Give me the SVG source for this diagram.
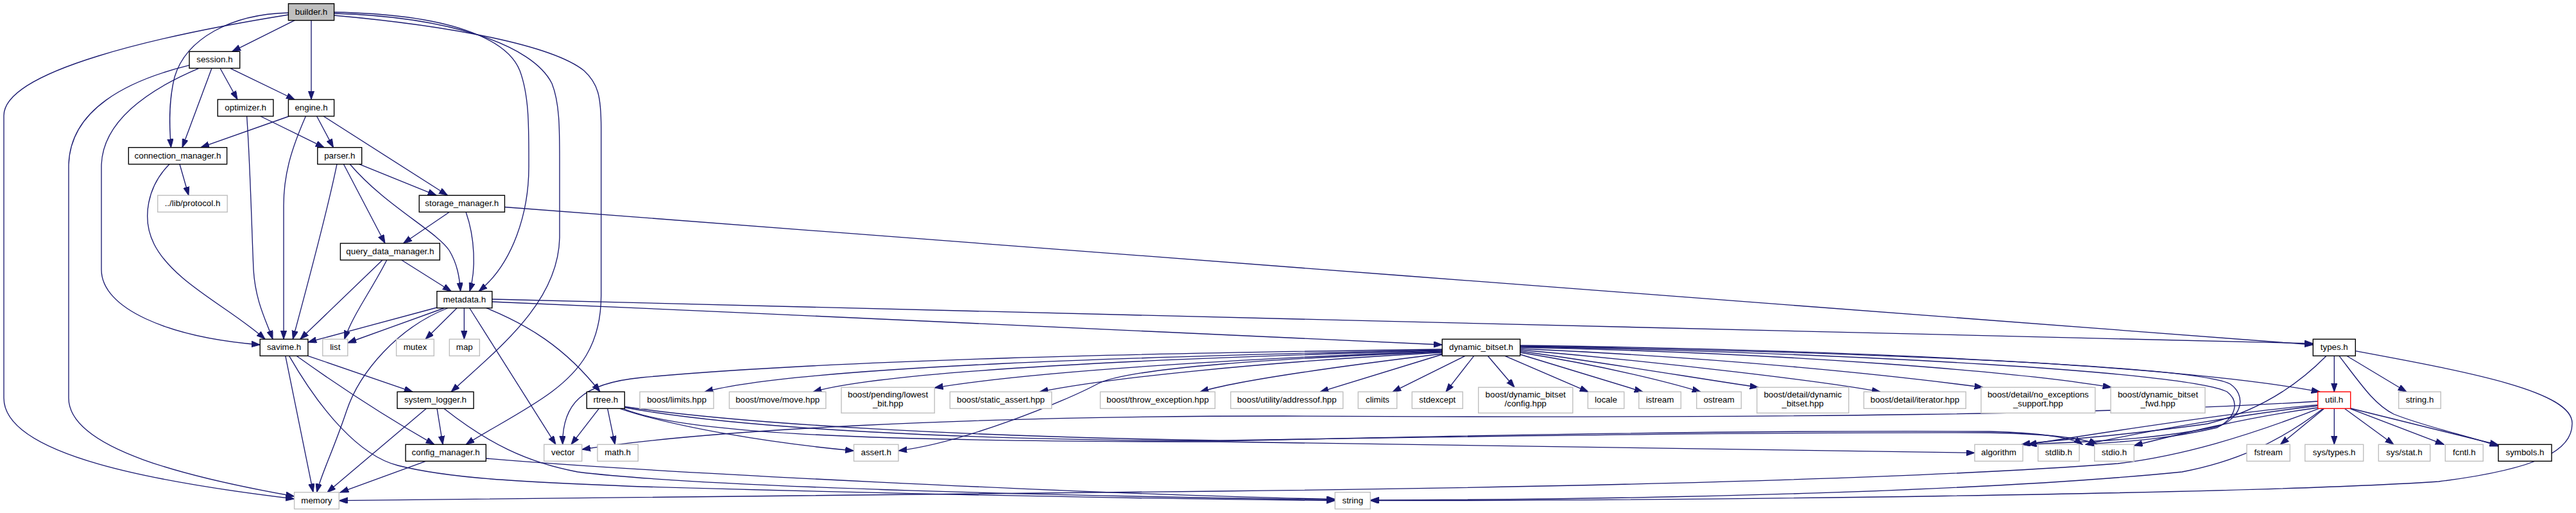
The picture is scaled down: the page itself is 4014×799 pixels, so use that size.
<svg xmlns="http://www.w3.org/2000/svg" width="4014" height="799" viewBox="0 0 4014 799">
<style>
.n rect{fill:#fff;stroke:#000;stroke-width:1.4}
.n.r rect{fill:#bfbfbf}
.n.s rect{stroke:#bfbfbf}
.n.u rect{stroke:#ff0000}
.n text{font-family:"Liberation Sans",Arial,Helvetica,sans-serif;font-size:13.33px;fill:#000;text-anchor:middle}
#edges path{fill:none;stroke:#191970;stroke-width:1.33;marker-end:url(#a)}
</style>
<defs>
<marker id="a" markerUnits="userSpaceOnUse" markerWidth="14" markerHeight="10" refX="13.3" refY="4.67" orient="auto"><path d="M0,0 L13.3,4.67 L0,9.33 z" fill="#191970" stroke="#191970" stroke-width="1"/></marker>
</defs>
<rect x="0" y="0" width="4014" height="799" fill="#fff"/>
<g id="edges">
<path d="M459.2,31.7 L361.6,80.3"/>
<path d="M485,31.7 L485,155"/>
<path d="M449.4,20 C360,22 290,60 272,120 C262,160 264,200 266.5,229.7"/>
<path d="M449.4,23 C250,55 6,110 6,180 L6,620 C6,710 250,752 458.6,777"/>
<path d="M520.6,19 C700,22 790,60 810,110 C825,150 824,200 824,260 C824,330 800,410 746,453.7"/>
<path d="M520.6,21 C700,26 830,70 860,130 C872,160 872,200 872,250 L872,370 C870,470 780,540 703,610.3"/>
<path d="M520.6,24 C700,40 860,70 910,110 C932,130 936.7,150 936.7,200 L936.7,460 C936.7,540 900,580 860,610 C820,640 760,670 726,692.3"/>
<path d="M330,106.3 L284,229.7"/>
<path d="M343,106.3 L370,155"/>
<path d="M358.7,106.3 L459.2,155"/>
<path d="M295,101.7 C200,125 107,170 107,260 L107,620 C107,700 300,745 458.6,773"/>
<path d="M310,106.3 C230,140 158,190 158,260 L158,420 C158,480 260,525 405.2,537"/>
<path d="M405.8,181 L505,229.7"/>
<path d="M384.6,181 C390,260 392,350 395,420 C398,470 415,500 425,528.3"/>
<path d="M450.6,181 L312.8,229.7"/>
<path d="M493.6,181 L519.5,229.7"/>
<path d="M504,181 L697.4,304.3"/>
<path d="M476.4,181 C455,230 442,270 442,320 L442,528.3"/>
<path d="M280,255.7 L293.9,304.3"/>
<path d="M264,255.7 C230,290 220,340 240,380 C270,440 360,480 413,528.3"/>
<path d="M525,255.7 C510,330 480,440 456.3,528.3"/>
<path d="M535.5,255.7 L600,379"/>
<path d="M545.3,255.7 C600,320 680,360 700,390 C712,410 716,430 717.5,453.7"/>
<path d="M559.6,255.7 L680,304.3"/>
<path d="M700.3,330.3 L628.5,379"/>
<path d="M726,330.3 C740,370 742,420 731.8,453.7"/>
<path d="M786.4,322.5 C1500,377 2900,484 3604.3,537"/>
<path d="M596,405 L467.8,528.3"/>
<path d="M602.7,405 C580,450 550,490 536.7,528.3"/>
<path d="M625.7,405 L703.2,453.7"/>
<path d="M680.8,479 L479.9,533"/>
<path d="M691.7,480 L541.8,534"/>
<path d="M697.4,480 C620,510 560,580 540,640 C520,700 500,740 493.6,766.7"/>
<path d="M711.8,480 L663,528.3"/>
<path d="M723.3,480 L723.3,528.3"/>
<path d="M731.8,480 L866,692.3"/>
<path d="M757.7,479.7 C820,505 880,540 935,610.3"/>
<path d="M766.7,470 C1300,493 1900,520 2247.3,537"/>
<path d="M766.7,466 C1500,484 2900,519 3604.3,535"/>
<path d="M479.9,554.3 L643,610.3"/>
<path d="M462,554.3 C540,610 620,660 676.7,692.3"/>
<path d="M444.8,554.3 L488,766.7"/>
<path d="M450.6,554.3 C500,640 560,710 620,725 C700,745 800,750 1000,758 C1500,772 1800,777 2080.3,779.7"/>
<path d="M681,636.3 L690,692.3"/>
<path d="M664.3,636.3 L510,766.7"/>
<path d="M691.7,636.3 C760,690 820,720 900,735 C1100,760 1700,773 2080.3,778.5"/>
<path d="M757.3,714 C1000,735 1700,770 2080.3,777.5"/>
<path d="M663.3,718.3 L530,767"/>
<path d="M933.3,636.3 L890,692.3"/>
<path d="M946.7,636.3 L958.3,692.3"/>
<path d="M966,636.3 C1050,665 1200,690 1330.5,702"/>
<path d="M968,635 C1050,672 1300,688 1900,688 C2400,696 2800,703 3077,705.3"/>
<path d="M970,634 C1150,668 1500,685 1900,687 C2300,678 2700,670 3100,672 C3180,674 3230,682 3245,692.3"/>
<path d="M971,633 C1150,660 1500,680 1900,686 C2300,680 2700,673 3100,674 C3200,676 3250,684 3268,692.3"/>
<path d="M3611.7,625 C3300,645 2800,652 2000,648 C1500,648 1100,670 906.7,700"/>
<path d="M2247.3,545 C1800,555 1250,570 1098,610.3"/>
<path d="M2247.3,546 C1800,558 1380,578 1267,610.3"/>
<path d="M2247.3,547 C1900,560 1600,580 1456.2,604"/>
<path d="M2247.3,549 C1950,565 1720,590 1620,610.3"/>
<path d="M2247.3,551 C2050,575 1920,595 1870,610.3"/>
<path d="M2247.3,552 L2057,610.3"/>
<path d="M2283,554.3 L2170,610.3"/>
<path d="M2296.7,554.3 L2253,610.3"/>
<path d="M2247.3,544 C1800,550 1300,560 1000,588 C905,597 876,630 876.7,692.3"/>
<path d="M2247.3,548 C2000,558 1760,572 1710,598 C1660,625 1500,690 1399.9,702"/>
<path d="M2318.3,554.3 L2360,603.3"/>
<path d="M2345,554.3 L2475,610.3"/>
<path d="M2368.7,552 L2560,610.3"/>
<path d="M2368.7,549 C2500,570 2600,595 2650,610.3"/>
<path d="M2368.7,547 C2500,565 2650,590 2740,603.3"/>
<path d="M2368.7,545 C2600,565 2850,595 2930,610.3"/>
<path d="M2368.7,543 C2700,558 2950,585 3090,603.3"/>
<path d="M2368.7,541 C2800,550 3150,580 3290,603.3"/>
<path d="M2368.7,538 C2900,545 3400,570 3615,610.3"/>
<path d="M2368.7,539 C2900,548 3420,570 3475,598 C3500,615 3495,648 3460,663 C3350,688 3220,688 3160,692.3"/>
<path d="M2368.7,540 C2900,550 3410,580 3470,610 C3490,625 3485,650 3455,666 C3350,690 3280,688 3250,692.3"/>
<path d="M3637.3,554.3 L3637.3,610.3"/>
<path d="M3656.7,554.3 L3750,610.3"/>
<path d="M3645,554.3 C3680,600 3700,630 3730,645 C3780,665 3850,680 3893,695"/>
<path d="M3625,554.3 C3580,600 3520,640 3440,660 C3300,680 3200,685 3150,692.3"/>
<path d="M3670.3,546.7 C3850,580 4010,610 4008,660 C4008,700 3960,730 3800,750 C3500,770 2600,780 2135.3,779.7"/>
<path d="M3621.7,636.3 L3553.3,692.3"/>
<path d="M3637.3,636.3 L3637.3,692.3"/>
<path d="M3653.3,636.3 L3730,692.3"/>
<path d="M3661.7,636.3 L3808.3,692.3"/>
<path d="M3662.7,636 L3893,693"/>
<path d="M3611.7,630.7 C3500,640 3300,670 3160,692.3"/>
<path d="M3611.7,632 C3500,645 3350,670 3250,692.3"/>
<path d="M3611.7,635 C3500,650 3400,675 3325.3,694"/>
<path d="M3613.3,636.3 C3500,680 3400,710 3300,722 C3000,745 2500,758 1900,765 C1300,772 800,778 528.3,779.7"/>
<path d="M3620,636.3 C3550,690 3480,720 3400,735 C3100,765 2600,778 2135.3,779"/>
</g>
<g id="builder_h" class="n r"><rect x="449.4" y="5.7" width="71.2" height="26"/><text x="485" y="22.7">builder.h</text></g>
<g id="session_h" class="n"><rect x="295" y="80.3" width="78.7" height="26"/><text x="334.4" y="97.3">session.h</text></g>
<g id="optimizer_h" class="n"><rect x="339.2" y="155" width="86.7" height="26"/><text x="382.6" y="172">optimizer.h</text></g>
<g id="engine_h" class="n"><rect x="449.4" y="155" width="71.2" height="26"/><text x="485" y="172">engine.h</text></g>
<g id="connection_manager_h" class="n"><rect x="200.3" y="229.7" width="153.3" height="26"/><text x="277" y="246.7">connection_manager.h</text></g>
<g id="parser_h" class="n"><rect x="494.8" y="229.7" width="68.9" height="26"/><text x="529.3" y="246.7">parser.h</text></g>
<g id="protocol_h" class="n s"><rect x="245.7" y="304.3" width="108.5" height="26"/><text x="300" y="321.3">../lib/protocol.h</text></g>
<g id="storage_manager_h" class="n"><rect x="653.2" y="304.3" width="133.2" height="26"/><text x="719.8" y="321.3">storage_manager.h</text></g>
<g id="query_data_manager_h" class="n"><rect x="530.4" y="379" width="154.9" height="26"/><text x="607.9" y="396">query_data_manager.h</text></g>
<g id="metadata_h" class="n"><rect x="680.8" y="453.7" width="86" height="26"/><text x="723.8" y="470.7">metadata.h</text></g>
<g id="savime_h" class="n"><rect x="405.2" y="528.3" width="74.7" height="26"/><text x="442.6" y="545.3">savime.h</text></g>
<g id="list" class="n s"><rect x="502.8" y="528.3" width="39" height="26"/><text x="522.3" y="545.3">list</text></g>
<g id="mutex" class="n s"><rect x="617.6" y="528.3" width="58.6" height="26"/><text x="646.9" y="545.3">mutex</text></g>
<g id="map" class="n s"><rect x="700.3" y="528.3" width="47" height="26"/><text x="723.8" y="545.3">map</text></g>
<g id="dynamic_bitset_h" class="n"><rect x="2247.3" y="528.3" width="121.4" height="26"/><text x="2308" y="545.3">dynamic_bitset.h</text></g>
<g id="types_h" class="n"><rect x="3604.3" y="528.3" width="66" height="26"/><text x="3637.3" y="545.3">types.h</text></g>
<g id="system_logger_h" class="n"><rect x="619" y="610.3" width="119" height="26"/><text x="678.5" y="627.3">system_logger.h</text></g>
<g id="rtree_h" class="n"><rect x="914.3" y="610.3" width="59" height="26"/><text x="943.8" y="627.3">rtree.h</text></g>
<g id="boost_limits" class="n s"><rect x="997" y="610.3" width="115" height="26"/><text x="1054.5" y="627.3">boost/limits.hpp</text></g>
<g id="boost_move" class="n s"><rect x="1136.4" y="610.3" width="150.5" height="26"/><text x="1211.7" y="627.3">boost/move/move.hpp</text></g>
<g id="boost_lowest_bit" class="n s"><rect x="1311" y="603.3" width="145.2" height="40"/><text x="1383.6" y="619.3">boost/pending/lowest</text><text x="1383.6" y="633.3">_bit.hpp</text></g>
<g id="boost_static_assert" class="n s"><rect x="1480.3" y="610.3" width="158.4" height="26"/><text x="1559.5" y="627.3">boost/static_assert.hpp</text></g>
<g id="boost_throw_exception" class="n s"><rect x="1714.5" y="610.3" width="178.8" height="26"/><text x="1803.9" y="627.3">boost/throw_exception.hpp</text></g>
<g id="boost_addressof" class="n s"><rect x="1917.7" y="610.3" width="175" height="26"/><text x="2005.2" y="627.3">boost/utility/addressof.hpp</text></g>
<g id="climits" class="n s"><rect x="2116.3" y="610.3" width="60.4" height="26"/><text x="2146.5" y="627.3">climits</text></g>
<g id="stdexcept" class="n s"><rect x="2200.3" y="610.3" width="79" height="26"/><text x="2239.8" y="627.3">stdexcept</text></g>
<g id="boost_db_config" class="n s"><rect x="2303.7" y="603.3" width="147" height="40"/><text x="2377.2" y="619.3">boost/dynamic_bitset</text><text x="2377.2" y="633.3">/config.hpp</text></g>
<g id="locale" class="n s"><rect x="2474.3" y="610.3" width="56.4" height="26"/><text x="2502.5" y="627.3">locale</text></g>
<g id="istream" class="n s"><rect x="2553.7" y="610.3" width="65.6" height="26"/><text x="2586.5" y="627.3">istream</text></g>
<g id="ostream" class="n s"><rect x="2643.7" y="610.3" width="69.6" height="26"/><text x="2678.5" y="627.3">ostream</text></g>
<g id="boost_detail_db" class="n s"><rect x="2737.7" y="603.3" width="143" height="40"/><text x="2809.2" y="619.3">boost/detail/dynamic</text><text x="2809.2" y="633.3">_bitset.hpp</text></g>
<g id="boost_detail_iterator" class="n s"><rect x="2904.3" y="610.3" width="159" height="26"/><text x="2983.8" y="627.3">boost/detail/iterator.hpp</text></g>
<g id="boost_no_exceptions" class="n s"><rect x="3087" y="603.3" width="177.7" height="40"/><text x="3175.8" y="619.3">boost/detail/no_exceptions</text><text x="3175.8" y="633.3">_support.hpp</text></g>
<g id="boost_db_fwd" class="n s"><rect x="3289" y="603.3" width="147" height="40"/><text x="3362.5" y="619.3">boost/dynamic_bitset</text><text x="3362.5" y="633.3">_fwd.hpp</text></g>
<g id="util_h" class="n u"><rect x="3611.7" y="610.3" width="51" height="26"/><text x="3637.2" y="627.3">util.h</text></g>
<g id="string_h" class="n s"><rect x="3737.7" y="610.3" width="65.6" height="26"/><text x="3770.5" y="627.3">string.h</text></g>
<g id="config_manager_h" class="n"><rect x="632" y="692.3" width="125.3" height="26"/><text x="694.6" y="709.3">config_manager.h</text></g>
<g id="vector" class="n s"><rect x="847.7" y="692.3" width="59" height="26"/><text x="877.2" y="709.3">vector</text></g>
<g id="math_h" class="n s"><rect x="931" y="692.3" width="63.3" height="26"/><text x="962.6" y="709.3">math.h</text></g>
<g id="assert_h" class="n s"><rect x="1330.5" y="692.3" width="69.4" height="26"/><text x="1365.2" y="709.3">assert.h</text></g>
<g id="algorithm" class="n s"><rect x="3077" y="692.3" width="75" height="26"/><text x="3114.5" y="709.3">algorithm</text></g>
<g id="stdlib_h" class="n s"><rect x="3175.7" y="692.3" width="64.3" height="26"/><text x="3207.8" y="709.3">stdlib.h</text></g>
<g id="stdio_h" class="n s"><rect x="3263.7" y="692.3" width="61.6" height="26"/><text x="3294.5" y="709.3">stdio.h</text></g>
<g id="fstream" class="n s"><rect x="3501" y="692.3" width="67.3" height="26"/><text x="3534.6" y="709.3">fstream</text></g>
<g id="sys_types_h" class="n s"><rect x="3591.7" y="692.3" width="91" height="26"/><text x="3637.2" y="709.3">sys/types.h</text></g>
<g id="sys_stat_h" class="n s"><rect x="3706.3" y="692.3" width="80.4" height="26"/><text x="3746.5" y="709.3">sys/stat.h</text></g>
<g id="fcntl_h" class="n s"><rect x="3810.3" y="692.3" width="59" height="26"/><text x="3839.8" y="709.3">fcntl.h</text></g>
<g id="symbols_h" class="n"><rect x="3893" y="692.3" width="83" height="26"/><text x="3934.5" y="709.3">symbols.h</text></g>
<g id="memory" class="n s"><rect x="458.6" y="766.7" width="69.7" height="26"/><text x="493.4" y="783.7">memory</text></g>
<g id="string" class="n s"><rect x="2080.3" y="766.7" width="55" height="26"/><text x="2107.8" y="783.7">string</text></g>
</svg>
